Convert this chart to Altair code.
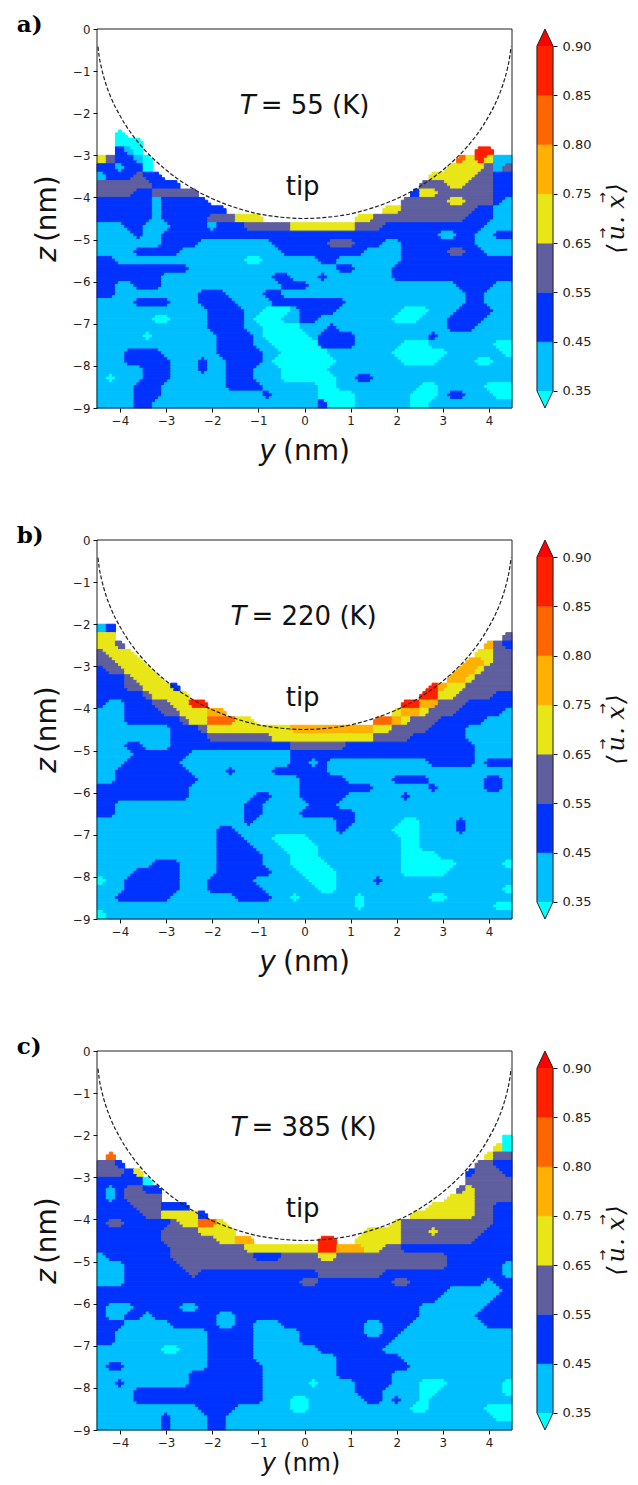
import altair as alt
import numpy as np
import pandas as pd

# band codes, bottom to top of the colour bar
CODES = ["c", "b", "d", "g", "y", "o", "r", "R"]
COLORS = ["#00FFFF", "#00BFFF", "#0033FF", "#5F5F9F", "#E8E617", "#FFB000", "#FF6600", "#FF2000"]
TICK_LABELS = ["0.35", "0.45", "0.55", "0.65", "0.75", "0.80", "0.85", "0.90"]
X_TICKS = [-4, -3, -2, -1, 0, 1, 2, 3, 4]
Z_TICKS = [0, -1, -2, -3, -4, -5, -6, -7, -8, -9]

ARC_Y = [-4.48, -4.45, -4.4, -4.3, -4.2, -4.0, -3.75, -3.5, -3.25, -3.0, -2.5, -2.0, -1.5, -1.0, -0.5, 0,
         0.5, 1.0, 1.5, 2.0, 2.5, 3.0, 3.25, 3.5, 3.75, 4.0, 4.2, 4.3, 4.4, 4.45, 4.48]
ARC_Z = [-0.42, -0.67, -0.94, -1.33, -1.62, -2.06, -2.49, -2.83, -3.11, -3.35, -3.74, -4.03, -4.24, -4.39, -4.47, -4.5,
         -4.47, -4.39, -4.24, -4.03, -3.74, -3.35, -3.11, -2.83, -2.49, -2.06, -1.62, -1.33, -0.94, -0.67, -0.42]

# each row: "<start column><band>" runs, 0.2 nm cells, first row starts at z = -2
PANEL_A = [
    "0.", "0.", "0. 2c 3.", "0. 2c 5.", "0. 2d 3b 4c 5. 41R 43.",
    "0y 1g 2d 4b 5c 6. 39r 40y 41R 42y 43b",
    "0d 2b 3d 5c 6. 38y 42g 43b 44g",
    "0b 1d 4g 5d 7. 36y 41g 43d",
    "0g 6d 9. 35g 38y 40g 43d",
    "0g 4d 6g 11. 34d 35y 37g 43d",
    "0d 6b 7d 12. 33g 38y 40g 43d 44b",
    "0d 6b 7d 14. 31y 33g 41d 43b",
    "0d 6b 7d 12g 15y 18. 28y 30g 40d 43b",
    "0b 3d 5b 8d 12b 13d 16g 21y 28g 31d 42b",
    "0b 4d 5b 7d 37b 39d 41b 43d",
    "0b 7d 11b 19d 25g 28d 31b 33d 41b",
    "0b 4d 9b 20d 29b 33d 38g 40d 42b",
    "0d 2b 16c 18b 24d 26b 33d",
    "0d 10b 26d 28b 32d",
    "0d 7b 19d 21b 24d 25b 32d",
    "0d 2b 4d 7b 20d 23b 39d 43b",
    "0d 2b 11d 14b 18d 20b 40d 42b",
    "0b 4d 8b 11d 15b 19d 27b 40d 42b",
    "0b 12d 16b 18c 21b 22d 26b 33c 36b 39d 43b",
    "0b 6c 8b 12d 16b 17c 20b 22d 24b 32c 35b 38d 42b",
    "0b 12d 16b 18c 22b 25d 26b 38d 41b",
    "0b 5c 6b 13d 17b 18c 23b 24d 28b 36d 37b",
    "0b 13d 17b 19c 24d 28b 33c 36b 43c",
    "0b 3d 7b 13d 18b 20c 25b 32c 38b 44c",
    "0b 3d 8b 11d 12b 14d 18b 19c 26b 33c 37b 41c 43b",
    "0b 5d 8b 11d 12b 14d 17b 20c 25b",
    "0b 1c 2b 5d 8b 14d 17b 20c 26b 28d 30b",
    "0b 4d 7b 14d 18b 24c 26b 35c 37b 42c",
    "0b 4d 7b 18d 19b 24c 28b 34c 37b 38d 40b 43c",
    "0b 4d 6b 24d 25c 28b 34c 36b",
]

PANEL_B = [
    "0b 1d 2.",
    "0y 2. 44g",
    "0y 2g 3. 42o 43g 44d",
    "0g 1y 4. 41y 43g",
    "0g 2y 5. 40o 42y 43g",
    "0d 1g 3y 6. 39o 41y 42g",
    "0d 3g 4y 7. 38o 40y 41g",
    "0d 3g 5y 8d 9. 36R 37o 38y 40g",
    "0d 5g 6y 10. 35R 37y 39g 43d",
    "0d 1b 3d 6g 8y 10R 12. 33R 35o 37g 40d",
    "0b 3d 7g 9y 12o 14. 32y 33o 35y 36g 39d 44b",
    "0b 3d 9g 10y 12r 15y 17. 30r 32o 33y 34g 37d 42b",
    "0b 8d 11g 12y 21o 30y 32g 36d 40b",
    "0b 8d 12g 19y 30g 34d 40b",
    "0b 3d 5b 8d 21g 27d 41b",
    "0b 4d 10b 21d 41b",
    "0b 3d 9b 21d 23b 24d 25b 36d 41b 42d",
    "0b 2d 10b 14d 15b 19d 25b",
    "0b 2d 11b 22d 27b 32d 36b 42d 44b",
    "0d 10b 22d 30b 36d 37b 42d 44b",
    "0d 10b 17d 19b 22d 27b 33d 34b",
    "0d 2b 16d 18b 23d 26b",
    "0d 2b 16d 18b 22d 28b",
    "0b 16d 17b 26d 28b 33c 35b 39d 40b",
    "0b 13d 15b 26d 27b 32c 35b 39d 40b",
    "0b 13d 16b 19c 23b 33c 35b",
    "0b 13d 17b 20c 24b 33c 35b",
    "0b 13d 18b 21c 24b 33c 37b",
    "0b 6d 9b 13d 18b 21c 25b 33c 39b 44c",
    "0b 4d 9b 13d 19b 22c 26b 33c 38b",
    "0c 1b 3d 9b 12d 17b 23c 26b 30d 31b",
    "0b 3d 9b 12d 18b 24c 26b 44c",
    "0b 2d 8b 15d 19b 21c 22b 28c 29b 36c 38b",
    "0b 28c 29b 43c",
    "0c 1b",
]

PANEL_C = [
    "0. 44c",
    "0. 43y 44c",
    "0. 1r 2. 42y 43g",
    "0g 2d 3. 41g 43d",
    "0g 3d 4y 5. 40d 41g 44d",
    "0d 5c 6. 40g",
    "0d 1b 2d 3g 5d 7. 39g 40y 41g",
    "0d 1b 2d 3g 7. 38y 41g",
    "0d 4g 7d 10. 36y 41g 43d",
    "0d 5g 7y 11d 12. 34y 41g 43d",
    "0d 1g 3d 8g 9y 11r 13y 14. 32y 33g 43d",
    "0d 7g 11y 15. 29y 33g 36y 37g 42d",
    "0d 7g 13y 15o 17. 24R 26. 28y 33g 41d",
    "0d 8g 16y 24R 26o 29y 31g 33d",
    "0b 1d 8g 17d 20g 24y 26g 38d",
    "0b 3d 9g 38d 44b",
    "0b 3d 10g 11d 24g 31d 44b",
    "0b 3d 22g 24d 32g 34d 42b 43d",
    "0d 38b 44d",
    "0d 37b 43d",
    "0d 1b 4d 9b 11d 35b 42d",
    "0d 1b 3d 5b 6d 13b 15d 35b 41d",
    "0d 3b 8d 13b 15d 17b 20d 29b 31d 34b 42d",
    "0d 2b 12d 17b 22d 29b 31d 33b",
    "0d 2b 12d 17b 22d 32b",
    "0b 7c 9b 12d 17b 24d 31b",
    "0b 12d 17b 26d 33b",
    "0b 1d 3b 12d 18b 26d 34b",
    "0b 10d 18b 26d 32b",
    "0b 2d 3b 10d 18b 23c 24b 28d 32b 35c 38b 44c",
    "0b 4d 18b 28d 31b 35c 37b 44c",
    "0b 4d 18b 21c 23b 29d 31b 32d 33b 35c 36b",
    "0b 11d 15b 21c 23b 34c 36b 42c",
    "0b 7d 8b 12d 14b 43c",
    "0b 7d 8b 12d 14b",
]

PANELS = [("a)", "= 55 (K)", -1.06, -0.95, -10.05, 28, PANEL_A),
          ("b)", "= 220 (K)", -1.26, -1.15, -10.05, 28, PANEL_B),
          ("c)", "= 385 (K)", -1.26, -1.15, -9.81, 24, PANEL_C)]

# colour-bar title pieces: text and height on the bar
BAR_TEXT = ["⟩", "x", ".", "u", "⟨"]
BAR_TEXT_Y = [4.12, 3.835, 3.47, 3.21, 2.88]
BAR_ARROW_Y = [3.92, 3.2]

FONT = "DejaVu Sans"
xs = alt.Scale(domain=[-4.5, 4.5], nice=False, zero=False)
zs = alt.Scale(domain=[-9, 0], nice=False, zero=False)
cs = alt.Scale(domain=CODES, range=COLORS)
AX = dict(title=None, grid=False, labelFont=FONT, labelFontSize=11.8, labelColor="#222222", tickColor="#111111",
          tickSize=4, domain=False, labelExpr="replace(datum.label,'-','−')", zindex=1, labelPadding=3)
x_ax = alt.Axis(values=X_TICKS, **AX)
z_ax = alt.Axis(values=Z_TICKS, **AX)

K = 3  # drawing cells per 0.2 nm cell
WIN = 1


def spans(rows):
    # band index per cell, -1 = nothing drawn
    grid = np.full((len(rows), 45), -1)
    for j, row in enumerate(rows):
        toks = row.split()
        for i, t in enumerate(toks):
            a = int(t[:-1])
            b = int(toks[i + 1][:-1]) if i + 1 < len(toks) else 45
            if t[-1] != ".":
                grid[j, a:b] = CODES.index(t[-1])
    # round the cell corners so that the band edges follow contours: majority of the neighbourhood
    fine = np.repeat(np.repeat(grid, K, axis=0), K, axis=1)
    h, w = fine.shape
    best = np.zeros((h, w)) - 1
    out = fine.copy()
    for v in range(-1, len(CODES)):
        m = np.pad((fine == v).astype(int), WIN, mode="edge")
        s = np.zeros((h + 2 * WIN + 1, w + 2 * WIN + 1), dtype=int)
        s[1:, 1:] = m.cumsum(0).cumsum(1)
        n = 2 * WIN + 1
        c = (s[n:, n:] - s[:-n, n:] - s[n:, :-n] + s[:-n, :-n]) + 0.5 * (fine == v)
        out = np.where(c > best, v, out)
        best = np.maximum(best, c)
    recs = []
    dx = 0.2 / K
    for j in range(h):
        a = 0
        for i in range(1, w + 1):
            if i == w or out[j, i] != out[j, a]:
                if out[j, a] >= 0:
                    recs.append(dict(x=round(-4.5 + dx * a, 4), x2=round(-4.5 + dx * i, 4),
                                     z=round(-2 - dx * j, 4), z2=round(-2 - dx * (j + 1), 4), c=CODES[out[j, a]]))
                a = i
    return pd.DataFrame(recs)


def txt(text, x, z, size=26, style="normal", align="left", angle=0, font=FONT, weight="normal", color="#111111"):
    return alt.Chart(pd.DataFrame([dict(x=x, z=z, t=text)])).mark_text(
        font=font, fontSize=size, fontStyle=style, fontWeight=weight, align=align, baseline="middle",
        angle=angle, color=color
    ).encode(x=alt.X("x:Q", scale=xs, axis=x_ax), y=alt.Y("z:Q", scale=zs, axis=z_ax), text="t:N")


def panel(letter, temp, tx, vx, lz, ls, rows):
    cells = alt.Chart(spans(rows)).mark_rect(strokeWidth=1).encode(
        x=alt.X("x:Q", scale=xs, axis=x_ax),
        x2="x2:Q",
        y=alt.Y("z:Q", scale=zs, axis=z_ax),
        y2="z2:Q",
        color=alt.Color("c:N", scale=cs, legend=None),
        stroke=alt.Stroke("c:N", scale=cs, legend=None),
    )
    arc = alt.Chart(pd.DataFrame(dict(y=ARC_Y, z=ARC_Z))).mark_line(
        color="#222222", strokeWidth=1.2, strokeDash=[4, 2], interpolate="monotone"
    ).encode(x=alt.X("y:Q", scale=xs, axis=x_ax), y=alt.Y("z:Q", scale=zs, axis=z_ax))
    frame = alt.Chart(pd.DataFrame([dict(a=-4.5, b=4.5, c=-9, d=0)])).mark_rect(
        fill=None, stroke="#222222", strokeWidth=1
    ).encode(x=alt.X("a:Q", scale=xs, axis=x_ax), x2="b:Q", y=alt.Y("c:Q", scale=zs, axis=z_ax), y2="d:Q")
    return alt.layer(
        cells, arc, frame,
        txt("T", tx, -1.82, style="italic", align="right"),
        txt(temp, vx, -1.82),
        txt("tip", -0.04, -3.75, align="center"),
        txt("y", -0.62, lz, size=ls, style="italic", align="right"),
        txt("(nm)", -0.466, lz, size=ls),
        txt("z", -5.56, -5.53, size=28, style="italic", angle=270),
        txt("(nm)", -5.56, -5.06, size=28, angle=270),
        txt(letter, -6.24, 0.1, size=23, font="DejaVu Serif", weight="bold", color="#000000"),
    ).properties(width=415, height=379)


bar_x = alt.Scale(domain=[0, 1], nice=False, zero=False)
bar_y = alt.Scale(domain=[-0.345, 7.345], nice=False, zero=False)
bar_ax = alt.Axis(orient="right", values=list(range(8)), title=None, grid=False, domain=False,
                  labelFont=FONT, labelFontSize=13, labelColor="#222222", tickColor="#111111", tickSize=4,
                  labelPadding=5, labelExpr=f"{TICK_LABELS}[datum.value]")


def colorbar():
    df = pd.DataFrame([dict(i=i, i2=i + 1, a=0, b=1, c=CODES[i + 1]) for i in range(7)])
    rects = alt.Chart(df).mark_rect(strokeWidth=0.5).encode(
        x=alt.X("a:Q", scale=bar_x, axis=None), x2="b:Q",
        y=alt.Y("i:Q", scale=bar_y, axis=bar_ax),
        y2="i2:Q",
        color=alt.Color("c:N", scale=cs, legend=None),
        stroke=alt.Stroke("c:N", scale=cs, legend=None),
    )

    def tri(y0, y1, col):
        d = pd.DataFrame(dict(y=[y0, y1], a=[0, 0.5], b=[1, 0.5]))
        return alt.Chart(d).mark_area(orient="horizontal", color=col).encode(
            y=alt.Y("y:Q", scale=bar_y, axis=bar_ax), x=alt.X("a:Q", scale=bar_x, axis=None), x2="b:Q")
    out = pd.DataFrame(dict(n=range(7), x=[0, 0, 0.5, 1, 1, 0.5, 0], y=[0, 7, 7.345, 7, 0, -0.345, 0]))
    outline = alt.Chart(out).mark_line(color="#222222", strokeWidth=1).encode(
        x=alt.X("x:Q", scale=bar_x, axis=None), y=alt.Y("y:Q", scale=bar_y, axis=bar_ax), order="n:Q")

    def label(text, x, y, size, font="DejaVu Serif", style="normal"):
        return alt.Chart(pd.DataFrame([dict(x=x, y=y, t=text)])).mark_text(
            font=font, fontSize=size, fontStyle=style, angle=270, color="#111111", baseline="middle", align="center"
        ).encode(x=alt.X("x:Q", scale=bar_x, axis=None), y=alt.Y("y:Q", scale=bar_y, axis=bar_ax), text="t:N")
    parts = [label(t, 5.0, y, 24, style="italic") for t, y in zip(BAR_TEXT, BAR_TEXT_Y)]
    arrows = [label("→", 4.1, y, 13, font="DejaVu Sans") for y in BAR_ARROW_Y]
    return alt.layer(rects, tri(7, 7.345, "#FF0000"), tri(0, -0.345, "#00FFFF"), outline, *parts, *arrows
                     ).properties(width=16, height=379)


rows_ = [alt.hconcat(panel(*p), colorbar(), spacing=21) for p in PANELS]
chart = alt.vconcat(*rows_, spacing=57).properties(
    padding={"left": 8, "top": 5, "right": 0, "bottom": 0}, background="white"
).configure_view(stroke=None)

chart.save("out.html", embed_options={"renderer": "svg", "actions": False})
